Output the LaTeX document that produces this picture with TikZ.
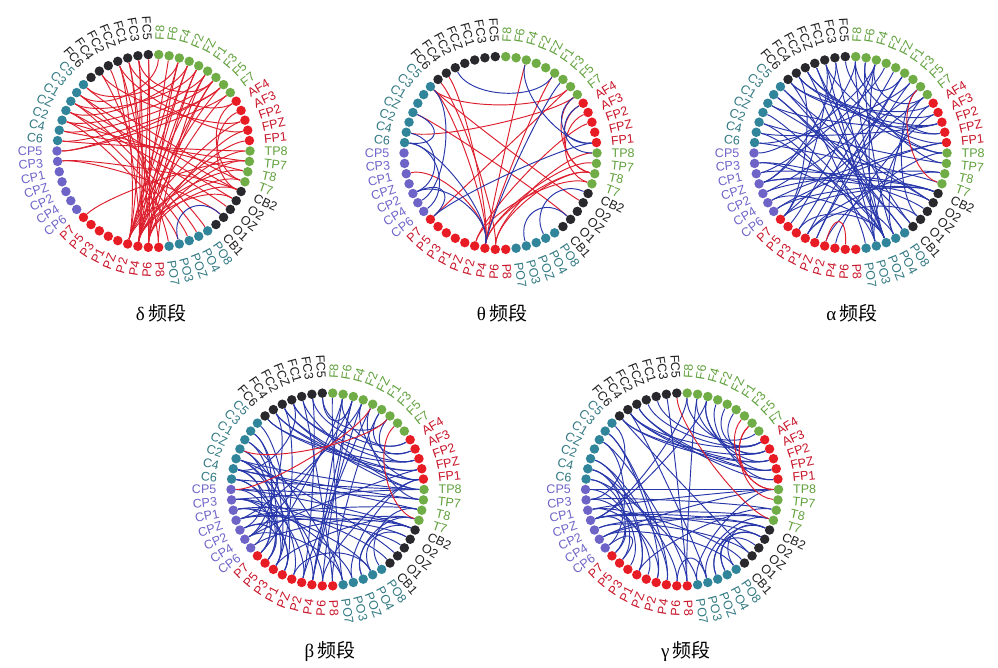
\documentclass[tikz,border=0pt]{standalone}
\usepackage{fontspec}
\setmainfont{Liberation Serif}
\newfontfamily\chanfont{Liberation Sans}
\newfontfamily\cjk{Noto Sans CJK SC}
\usetikzlibrary{calc}

\definecolor{dot-g}{RGB}{112,173,71}
\definecolor{dot-r}{RGB}{232,28,36}
\definecolor{dot-t}{RGB}{49,133,155}
\definecolor{dot-p}{RGB}{110,100,200}
\definecolor{dot-k}{RGB}{40,40,45}
\definecolor{txt-g}{RGB}{96,160,60}
\definecolor{txt-r}{RGB}{200,20,40}
\definecolor{txt-t}{RGB}{49,120,130}
\definecolor{txt-p}{RGB}{110,100,200}
\definecolor{txt-k}{RGB}{30,30,30}
\definecolor{linkred}{RGB}{220,30,45}
\definecolor{linkblue}{RGB}{40,55,170}

\tikzset{
  chdot/.style={circle,inner sep=0pt,minimum size=9.5pt,draw=none},
  chlabel/.style={inner sep=0pt,font=\chanfont\fontsize{12.5}{12.5}\selectfont},
  redlink/.style={draw=linkred,line width=0.95pt},
  bluelink/.style={draw=linkblue,line width=0.95pt},
  bandtitle/.style={inner sep=0pt,font=\fontsize{19}{19}\selectfont},
}

% channels clockwise from the top, with their group colour
\newcommand\chanlist{F8/g,F6/g,F4/g,F2/g,FZ/g,F1/g,F3/g,F5/g,F7/g,AF4/r,AF3/r,FP2/r,FPZ/r,FP1/r,TP8/g,TP7/g,T8/g,T7/g,CB2/k,O2/k,OZ/k,O1/k,CB1/k,PO8/t,PO4/t,POZ/t,PO3/t,PO7/t,P8/r,P6/r,P4/r,P2/r,PZ/r,P1/r,P3/r,P5/r,P7/r,CP6/p,CP4/p,CP2/p,CPZ/p,CP1/p,CP3/p,CP5/p,C6/t,C4/t,C2/t,CZ/t,C1/t,C3/t,C5/t,FC6/k,FC4/k,FC2/k,FCZ/k,FC1/k,FC3/k,FC5/k}

% ring of channel dots and labels: prefix, centre x, centre y
\newcommand\eegring[3]{%
  \coordinate (#1-c) at (#2,#3);
  \foreach \ch/\grp [count=\i from 0] in \chanlist {
    \pgfmathsetmacro\ang{86.897-6.2069*\i}
    \pgfmathsetmacro\rot{\ang+180}
    \node[chdot,fill=dot-\grp] (#1-\ch) at ($(#1-c)+(\ang:96.5)$) {};
    \ifnum\i<29
      \node[chlabel,text=txt-\grp,rotate=\ang,anchor=west] (#1-\ch-lbl) at ($(#1-c)+(\ang:111)$) {\ch};
    \else
      \node[chlabel,text=txt-\grp,rotate=\rot,anchor=east] (#1-\ch-lbl) at ($(#1-c)+(\ang:111)$) {\ch};
    \fi
  }
}

% links inside a ring: prefix, style, list of from/to
\newcommand\eeglinks[3]{%
  \foreach \a/\b in {#3}
    \draw[#2] (#1-\a) .. controls ($(#1-c)!.65!(#1-\a)$) and ($(#1-c)!.65!(#1-\b)$) .. (#1-\b);
}

\begin{document}
\begin{tikzpicture}[x=1pt,y=1pt]
\useasboundingbox (0,0) rectangle (998,668);
%%
% Panel: delta
\eegring{d}{153.5}{517}
\eeglinks{d}{redlink}{FC5/P6,FC5/P4,FC3/P4,FC3/P2,FC1/P6,FC1/P4,FCZ/P2,FCZ/P8,FC2/P4,FC4/PO7,
  F6/P4,F4/P2,F4/P6,F2/P4,F2/P2,FZ/P6,FZ/P4,F1/P2,F1/P8,F3/P4,F3/P6,F5/P2,F7/P4,
  F8/C3,F4/C5,F2/CZ,FZ/C1,F1/C2,F3/C4,F5/C6,F7/CP5,
  C5/T7,C3/CB2,C1/O2,CZ/OZ,C2/T8,C4/TP7,C6/TP8,C3/PO8,C1/PO4,CZ/POZ,C2/PO3,
  CP5/F5,CP3/CB2,CP3/O1,P7/TP7,
  AF4/T7,AF3/CB2,FP1/P4,FPZ/P6,FP2/P2,
  TP8/P4,TP7/P6,T8/P2,T7/P4,CB2/P6,O2/P4,
  FC3/F3,FC1/AF4,FC4/FP2,FCZ/FPZ}
\eeglinks{d}{bluelink}{PO3/O1}
\node[bandtitle] (d-title) at (161,355) {δ\,{\cjk 频段}};
%%
% Panel: theta
\eegring{t}{500.5}{515}
\eeglinks{t}{redlink}{C5/F5,C5/P4,C5/O2,C4/F7,CZ/O1,CP1/P4,F4/P4,F1/P4,FC4/P4,FC6/P6,
  AF4/T8,AF3/T7,F7/T8,F5/P7,TP7/P4,T8/P4,T8/P6,T7/P2,TP8/P6,FP2/P2}
\eeglinks{t}{bluelink}{FC2/F1,FP1/P7,F4/FP1,F3/P4,C5/CP4,C6/CP6,CP2/P7,C4/CP2,
  PO3/O1,PO4/CB2,C6/P4,CP2/P4,AF4/TP8,FP1/F7,CZ/C6}
\node[bandtitle] (t-title) at (502,355) {θ\,{\cjk 频段}};
%%
% Panel: alpha
\eegring{a}{850.5}{515}
\eeglinks{a}{bluelink}{FC6/FP2,FC4/FPZ,FC2/FP1,FC4/AF3,FC2/TP8,FCZ/POZ,FC1/PO3,FC3/POZ,FC1/P7,
  FC3/CPZ,F8/POZ,F6/PO4,F4/PO3,F2/CP1,FZ/P3,F1/P1,F3/PZ,F5/CP2,F7/P7,F6/F1,F4/F7,
  C5/PO8,C3/CB1,C1/O2,C2/TP7,C4/FP2,C4/POZ,C6/F3,C6/T7,CP5/F4,CP3/PO4,CP1/CB2,
  CPZ/CB2,CPZ/O2,CPZ/F8,CP2/T8,CP4/POZ,CP6/FP1,P7/FC4,P7/CB2,P5/F4,P3/POZ,
  P1/O1,PZ/F1,P2/TP8,PO7/FC6,PO3/AF4,PO3/C2,POZ/CZ,POZ/FC2,PO4/F7,PO8/C3,
  CB1/FCZ,O1/F5,OZ/CP3,O2/C5,CB2/CP6,T8/P1,TP7/FC5,TP8/FC1,FP1/CP4,FPZ/F8,
  FP2/C1,AF3/P4,AF4/FC6}
\eeglinks{a}{redlink}{F5/T7,P2/P6}
\node[bandtitle] (a-title) at (852,355) {α\,{\cjk 频段}};
%%
% Panel: beta
\eegring{b}{327.5}{178.5}
\eeglinks{b}{bluelink}{FC6/FP2,FC6/FPZ,FC4/FPZ,FC4/FP1,FC2/FP1,FC2/TP8,FCZ/AF3,FCZ/FP2,
  FC1/TP8,FC3/AF4,FC1/P8,FC3/P2,FC5/F4,FC5/F3,FC4/CP4,FC2/P3,FCZ/C4,
  F8/PO7,F6/P4,F4/P6,F2/FP1,FZ/TP7,F1/AF3,F3/FP2,
  C5/P1,C3/P3,C1/P5,CZ/P4,C2/PZ,C4/T8,C4/CP2,C6/TP8,C6/P2,
  CP5/TP7,CP5/P7,CP3/TP8,CP3/PO3,CP1/CB2,CP1/P1,CPZ/O2,CPZ/F2,CP2/CB2,CP2/P5,
  CP4/PO7,CP4/F4,CP6/C3,CP6/T7,P7/F6,P7/CZ,P5/C4,P3/C6,P1/CP3,PZ/PO4,P2/FZ,
  P4/F4,P4/F2,P6/C2,P8/F1,PO7/C1,PO3/FP1,POZ/CB2,POZ/T7,PO4/O2,PO8/T8,PO4/CP1,
  CB1/CP3,O1/C2,OZ/CPZ,CB2/CP5,T7/P3,T8/CPZ,TP7/C4,TP8/C2,FP1/P6,FPZ/CP4,AF4/F6}
\eeglinks{b}{redlink}{CZ/F3,CP5/FZ,F5/T7}
\node[bandtitle] (b-title) at (330,17) {β\,{\cjk 频段}};
%%
% Panel: gamma
\eegring{g}{682}{178.5}
\eeglinks{g}{bluelink}{FC6/AF3,FC6/FP2,FC4/FP2,FC4/FPZ,FC2/FPZ,FC2/FP1,FCZ/AF4,FC4/AF4,FC1/F7,
  F8/CPZ,F6/P8,F6/AF3,F4/FP2,F4/FPZ,F2/FP1,FZ/AF4,F1/AF3,F8/AF4,
  C3/P2,C1/CP6,C2/P4,C4/P6,C6/PO7,C5/CP3,C4/P1,
  CP5/TP8,CP3/T8,CP1/TP8,CPZ/CB2,CPZ/O2,CPZ/T7,CPZ/F4,CPZ/P7,CP2/O1,CP2/CB2,
  CP4/PO8,CP6/P5,P7/C4,P5/C6,P3/CP5,P1/C2,PZ/CP3,P2/CP1,P4/C3,P6/PO3,P8/FC3,
  P8/C1,PO7/TP8,PO3/T7,POZ/CB2,POZ/O2,PO4/OZ,PO4/O2,PO8/CB2,PO3/FC4,
  CB1/CP1,O1/FC6,TP8/CP4,T7/CP4,T8/P1}
\eeglinks{g}{redlink}{FC5/T7,F3/TP8,F5/TP8,F5/TP7}
\node[bandtitle] (g-title) at (686,17) {γ\,{\cjk 频段}};
%
\end{tikzpicture}
\end{document}
